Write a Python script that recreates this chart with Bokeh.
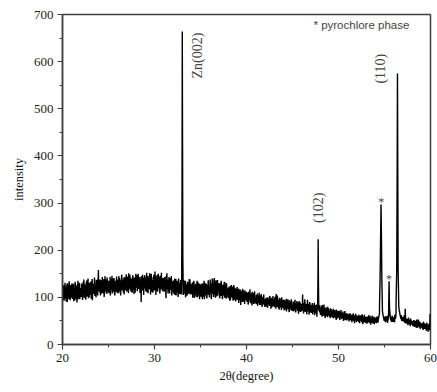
import numpy as np
from bokeh.plotting import figure
from bokeh.models import Range1d, SingleIntervalTicker, Label
from bokeh.embed import file_html
from bokeh.resources import INLINE

# 2-theta range of the scan (degrees)
two_theta_min, two_theta_max = 20.0, 60.0

# background counts, 0.05 degree steps starting at 20.00, one row per degree
background = [
    112, 95, 118, 104, 126, 99, 110, 121, 91, 115, 107, 130, 101, 117, 96, 124, 109, 113, 98, 120,
    105, 123, 97, 117, 129, 102, 114, 94, 125, 108, 119, 100, 127, 111, 96, 121, 106, 131, 103, 116,
    120, 101, 127, 110, 97, 133, 108, 121, 99, 117, 126, 104, 115, 136, 102, 119, 111, 128, 100, 123,
    126, 105, 119, 134, 110, 94, 123, 129, 107, 118, 131, 112, 125, 100, 137, 116, 122, 140, 158, 113,
    129, 111, 127, 118, 136, 108, 124, 131, 114, 121, 139, 106, 128, 117, 133, 110, 126, 142, 115, 123,
    128, 109, 134, 119, 104, 127, 139, 115, 122, 132, 112, 129, 141, 118, 107, 126, 135, 113, 124, 138,
    117, 137, 109, 130, 141, 120, 111, 134, 126, 146, 115, 128, 138, 122, 106, 131, 143, 119, 127, 136,
    131, 114, 140, 124, 151, 118, 133, 125, 142, 112, 129, 137, 120, 147, 116, 134, 127, 139, 110, 132,
    135, 121, 147, 117, 130, 126, 138, 124, 143, 118, 132, 90, 139, 125, 148, 116, 131, 137, 122, 144,
    142, 113, 129, 152, 120, 136, 109, 131, 146, 124, 117, 139, 128, 150, 112, 134, 126, 143, 119, 137,
    118, 155, 127, 105, 139, 131, 148, 115, 126, 134, 121, 144, 113, 137, 129, 152, 117, 132, 124, 141,
    128, 112, 143, 120, 135, 98, 130, 151, 119, 126, 138, 114, 132, 108, 141, 123, 117, 136, 111, 129,
    117, 133, 108, 125, 140, 113, 122, 104, 128, 119, 135, 110, 126, 116, 131, 107, 124, 137, 112, 121,
    121, 112, 130, 115, 107, 126, 118, 135, 110, 122, 128, 104, 119, 132, 113, 125, 109, 138, 116, 123,
    108, 128, 116, 99, 124, 112, 131, 105, 119, 114, 127, 101, 122, 110, 133, 107, 118, 125, 96, 115,
    120, 102, 125, 111, 96, 118, 128, 107, 115, 109, 131, 104, 122, 113, 99, 126, 110, 136, 105, 119,
    124, 138, 112, 130, 104, 119, 134, 108, 121, 115, 141, 106, 127, 118, 132, 102, 123, 137, 111, 126,
    117, 130, 101, 122, 110, 135, 106, 118, 99, 113, 127, 104, 120, 132, 108, 116, 97, 124, 111, 119,
    112, 98, 122, 107, 116, 94, 109, 126, 101, 110, 118, 93, 114, 103, 121, 99, 108, 117, 95, 111,
    95, 113, 104, 88, 109, 99, 117, 92, 105, 100, 111, 90, 103, 115, 96, 107, 86, 101, 110, 94,
    104, 91, 107, 96, 85, 102, 111, 93, 99, 88, 106, 97, 83, 101, 92, 109, 95, 87, 103, 90,
    97, 86, 101, 90, 82, 95, 104, 88, 92, 99, 84, 96, 107, 89, 80, 94, 100, 85, 93, 87,
    84, 96, 80, 91, 99, 86, 78, 93, 88, 95, 82, 101, 87, 76, 92, 85, 97, 81, 90, 83,
    90, 79, 101, 83, 76, 92, 86, 104, 80, 88, 95, 74, 85, 98, 81, 89, 73, 94, 84, 78,
    77, 88, 72, 85, 93, 79, 84, 70, 89, 81, 96, 75, 83, 69, 87, 78, 91, 73, 82, 76,
    83, 74, 86, 70, 79, 91, 75, 68, 82, 77, 88, 71, 80, 65, 84, 73, 78, 89, 69, 76,
    71, 80, 106, 73, 66, 84, 77, 92, 69, 74, 81, 64, 76, 87, 70, 79, 63, 83, 72, 68,
    79, 67, 75, 88, 64, 73, 81, 70, 62, 76, 84, 66, 72, 59, 78, 68, 74, 63, 80, 69,
    72, 63, 77, 66, 59, 84, 68, 61, 74, 65, 71, 56, 69, 79, 62, 67, 58, 73, 64, 70,
    60, 71, 56, 68, 75, 62, 58, 70, 64, 55, 67, 61, 73, 57, 65, 52, 69, 60, 66, 58,
    66, 57, 63, 52, 69, 59, 64, 54, 61, 58, 67, 50, 62, 56, 71, 53, 60, 65, 51, 57,
    53, 62, 56, 49, 60, 55, 64, 51, 58, 47, 61, 54, 66, 50, 57, 45, 59, 53, 62, 48,
    59, 50, 57, 62, 48, 54, 45, 58, 52, 56, 61, 47, 55, 43, 58, 51, 63, 49, 54, 46,
    49, 55, 44, 58, 51, 47, 60, 53, 46, 54, 42, 57, 50, 59, 45, 52, 48, 56, 43, 53,
    48, 56, 50, 45, 58, 52, 47, 55, 61, 64, 70, 75, 80, 85, 78, 72, 68, 62, 57, 53,
    58, 52, 47, 55, 60, 49, 53, 46, 57, 62, 66, 70, 64, 56, 51, 48, 55, 59, 50, 54,
    52, 58, 47, 61, 55, 66, 70, 74, 78, 82, 85, 80, 73, 68, 62, 58, 54, 60, 51, 56,
    55, 49, 58, 62, 47, 76, 52, 44, 50, 46, 53, 41, 57, 48, 43, 51, 39, 54, 45, 49,
    42, 48, 39, 51, 44, 37, 47, 41, 49, 38, 53, 35, 45, 40, 50, 36, 43, 47, 33, 44,
    40, 45, 35, 43, 31, 47, 38, 33, 44, 36, 41, 29, 46, 34, 39, 27, 42, 32, 37, 65,
    36,
]

# background counts at the intermediate steps (20.025, 20.075, ...), one row per degree
background_mid = [
    100, 125, 108, 93, 119, 131, 97, 114, 105, 128, 90, 116, 123, 102, 134, 111, 94, 126, 106, 118,
    130, 99, 115, 122, 92, 119, 108, 133, 97, 124, 113, 89, 121, 135, 104, 112, 127, 96, 118, 109,
    106, 129, 114, 95, 124, 112, 138, 101, 127, 109, 95, 132, 118, 105, 126, 140, 98, 117, 131, 107,
    112, 133, 97, 124, 139, 116, 107, 128, 120, 142, 103, 126, 114, 135, 109, 130, 104, 125, 132, 119,
    116, 138, 104, 130, 112, 125, 143, 109, 133, 120, 101, 127, 145, 114, 124, 138, 107, 131, 120, 112,
    135, 116, 124, 143, 110, 131, 120, 146, 108, 126, 140, 117, 122, 104, 135, 128, 113, 144, 118, 109,
    131, 122, 145, 113, 127, 136, 104, 129, 148, 117, 133, 121, 110, 142, 126, 137, 115, 124, 149, 112,
    120, 144, 127, 109, 136, 129, 148, 116, 131, 139, 123, 110, 145, 128, 135, 107, 142, 121, 133, 150,
    122, 140, 113, 133, 150, 118, 127, 141, 109, 136, 126, 145, 114, 133, 120, 142, 105, 128, 147, 119,
    127, 138, 120, 111, 145, 126, 140, 117, 122, 151, 131, 106, 143, 121, 137, 125, 110, 133, 148, 115,
    133, 122, 146, 138, 116, 124, 112, 139, 150, 120, 137, 108, 129, 146, 118, 126, 141, 113, 135, 127,
    140, 123, 118, 134, 111, 146, 125, 117, 137, 108, 129, 143, 121, 137, 116, 130, 145, 104, 125, 134,
    128, 113, 137, 119, 105, 131, 139, 116, 111, 133, 122, 101, 140, 120, 110, 128, 115, 130, 106, 135,
    110, 128, 105, 137, 124, 113, 131, 100, 128, 114, 105, 133, 126, 108, 122, 139, 119, 106, 129, 111,
    123, 106, 132, 120, 108, 135, 99, 124, 110, 129, 103, 118, 135, 100, 121, 130, 104, 112, 129, 117,
    103, 127, 114, 130, 121, 101, 113, 135, 96, 124, 117, 108, 129, 98, 119, 107, 132, 114, 123, 100,
    108, 117, 129, 96, 123, 140, 111, 129, 101, 136, 120, 130, 99, 136, 109, 128, 114, 104, 130, 120,
    124, 98, 115, 131, 103, 120, 127, 96, 125, 108, 117, 133, 99, 112, 126, 102, 130, 107, 118, 100,
    103, 119, 110, 93, 124, 105, 117, 100, 114, 123, 98, 108, 126, 95, 109, 119, 91, 115, 104, 122,
    106, 97, 119, 108, 94, 112, 103, 84, 114, 96, 105, 118, 99, 91, 110, 100, 115, 94, 104, 112,
    94, 110, 99, 86, 112, 95, 104, 117, 89, 108, 98, 90, 112, 96, 106, 86, 101, 113, 94, 99,
    90, 105, 95, 108, 89, 101, 92, 110, 84, 97, 104, 89, 97, 83, 101, 91, 87, 106, 96, 80,
    93, 82, 99, 87, 94, 79, 100, 85, 97, 90, 103, 88, 95, 84, 99, 79, 92, 103, 85, 96,
    82, 95, 86, 93, 107, 80, 97, 88, 91, 77, 84, 99, 90, 79, 93, 85, 100, 81, 89, 95,
    86, 79, 95, 80, 88, 74, 97, 82, 76, 92, 83, 88, 70, 94, 80, 87, 76, 96, 85, 71,
    75, 91, 80, 85, 73, 95, 82, 87, 76, 92, 80, 75, 89, 78, 92, 70, 83, 74, 86, 81,
    79, 85, 74, 88, 81, 70, 96, 82, 78, 86, 70, 82, 95, 74, 86, 72, 81, 90, 75, 84,
    71, 83, 78, 68, 85, 78, 70, 89, 75, 82, 69, 79, 85, 71, 76, 84, 66, 77, 70, 83,
    66, 78, 70, 82, 73, 67, 79, 71, 85, 60, 77, 66, 74, 61, 75, 69, 80, 64, 76, 62,
    68, 62, 77, 63, 59, 72, 66, 60, 76, 64, 58, 72, 64, 68, 59, 74, 63, 55, 71, 64,
    60, 72, 55, 65, 61, 73, 56, 66, 59, 70, 55, 64, 59, 68, 52, 64, 58, 55, 67, 61,
    59, 55, 65, 58, 52, 66, 59, 55, 63, 56, 51, 60, 53, 63, 49, 61, 55, 65, 52, 58,
    52, 61, 54, 49, 63, 52, 60, 50, 62, 53, 49, 64, 51, 58, 54, 47, 60, 55, 48, 59,
    58, 47, 59, 52, 55, 62, 49, 56, 61, 45, 56, 51, 46, 61, 53, 57, 44, 59, 55, 50,
    55, 46, 59, 53, 49, 60, 54, 58, 63, 68, 73, 78, 83, 80, 74, 70, 64, 59, 55, 50,
    54, 60, 51, 58, 53, 57, 50, 62, 53, 58, 64, 72, 60, 53, 58, 52, 61, 55, 48, 57,
    55, 50, 63, 56, 60, 69, 73, 76, 80, 84, 83, 77, 70, 64, 60, 55, 62, 50, 58, 53,
    51, 58, 52, 47, 55, 64, 48, 55, 47, 54, 45, 51, 46, 53, 50, 45, 55, 47, 50, 43,
    50, 43, 46, 40, 52, 45, 42, 50, 36, 46, 42, 48, 39, 53, 44, 41, 48, 38, 44, 40,
    36, 44, 41, 33, 48, 37, 45, 35, 40, 43, 34, 45, 36, 42, 31, 40, 35, 45, 30, 38,
]

# diffraction peaks: 2-theta positions and counts across each reflection
zn002_x = [32.95, 32.99, 33.02, 33.05, 33.08, 33.12]
zn002_y = [125, 300, 664, 416, 185, 120]
p102_x = [47.73, 47.77, 47.79, 47.82, 47.86]
p102_y = [75, 150, 223, 130, 72]
pyro1_x = [54.46, 54.52, 54.58, 54.62, 54.66, 54.71, 54.77]
pyro1_y = [85, 140, 230, 297, 240, 140, 78]
pyro2_x = [55.44, 55.48, 55.50, 55.53, 55.57]
pyro2_y = [60, 110, 134, 95, 60]
p110_x = [56.26, 56.33, 56.38, 56.41, 56.44, 56.48, 56.55]
p110_y = [90, 160, 380, 575, 380, 160, 85]

# annotation texts
label_zn002 = "Zn(002)"
label_102 = "(102)"
label_110 = "(110)"
label_star = "*"
legend_text = "* pyrochlore phase"
x_label = "2θ(degree)"
y_label = "intensity"

step = (two_theta_max - two_theta_min) / (len(background) - 1)
x_bg = np.concatenate([
    np.linspace(two_theta_min, two_theta_max, len(background)),
    two_theta_min + step / 2 + step * np.arange(len(background_mid)),
])
y_bg = np.array(background + background_mid, dtype=float)
peaks = [(zn002_x, zn002_y), (p102_x, p102_y), (pyro1_x, pyro1_y),
         (pyro2_x, pyro2_y), (p110_x, p110_y)]
keep = np.ones(len(x_bg), dtype=bool)
for px, py in peaks:
    keep &= ~((x_bg >= min(px)) & (x_bg <= max(px)))
xs = np.concatenate([x_bg[keep]] + [np.array(px, float) for px, _ in peaks])
ys = np.concatenate([y_bg[keep]] + [np.array(py, float) for _, py in peaks])
order = np.argsort(xs, kind="stable")
xs, ys = xs[order], ys[order]

axis_col = "#404040"
p = figure(width=437, height=392, x_range=Range1d(20, 60), y_range=Range1d(0, 700),
           output_backend="svg", toolbar_location=None,
           min_border_left=62, min_border_right=7, min_border_top=14, min_border_bottom=48)
p.grid.visible = False
p.outline_line_color = axis_col
p.outline_line_width = 1.5
p.background_fill_color = "white"
p.border_fill_color = "white"

p.line(xs, ys, line_color="black", line_width=1.4)

p.xaxis.ticker = SingleIntervalTicker(interval=10, num_minor_ticks=2)
p.yaxis.ticker = SingleIntervalTicker(interval=100, num_minor_ticks=2)
for ax in (p.xaxis[0], p.yaxis[0]):
    ax.axis_line_color = axis_col
    ax.axis_line_width = 1.5
    ax.major_tick_line_color = axis_col
    ax.minor_tick_line_color = axis_col
    ax.major_tick_line_width = 1.2
    ax.minor_tick_line_width = 1
    ax.major_tick_out = 5
    ax.major_tick_in = 0
    ax.minor_tick_out = 3
    ax.minor_tick_in = 0
    ax.major_label_text_font = "Liberation Serif"
    ax.major_label_text_font_size = "13px"
    ax.major_label_text_color = "#222222"
    ax.axis_label_text_font = "Liberation Serif"
    ax.axis_label_text_font_size = "12.5px"
    ax.axis_label_text_font_style = "normal"
    ax.axis_label_text_color = "#111111"
p.xaxis.axis_label = x_label
p.yaxis.axis_label = y_label
p.xaxis.major_label_standoff = 4
p.yaxis.major_label_standoff = 4
p.xaxis.axis_label_standoff = 4
p.yaxis.axis_label_standoff = 5

serif = "Liberation Serif"
p.add_layout(Label(x=34.67, y=613, text=label_zn002, angle=np.pi / 2, text_align="center",
                   text_baseline="middle", text_font=serif, text_font_size="14px"))
p.add_layout(Label(x=54.57, y=585, text=label_110, angle=np.pi / 2, text_align="center",
                   text_baseline="middle", text_font=serif, text_font_size="14px"))
p.add_layout(Label(x=47.83, y=290, text=label_102, angle=np.pi / 2, text_align="center",
                   text_baseline="middle", text_font=serif, text_font_size="14px"))
p.add_layout(Label(x=54.64, y=303, text=label_star, text_align="center",
                   text_baseline="middle", text_font=serif, text_font_size="12px"))
p.add_layout(Label(x=55.5, y=140, text=label_star, text_align="center",
                   text_baseline="middle", text_font=serif, text_font_size="12px"))
p.add_layout(Label(x=47.28, y=677, text=legend_text, text_align="left",
                   text_baseline="middle", text_font="Liberation Sans", text_font_size="11.5px"))

open("out.html", "w").write(file_html(p, INLINE))
